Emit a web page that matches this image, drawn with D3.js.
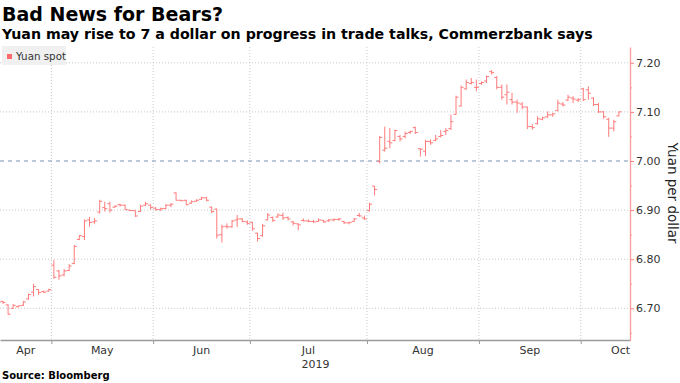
<!DOCTYPE html>
<html>
<head>
<meta charset="utf-8">
<script src="https://cdn.jsdelivr.net/npm/d3@7"></script>
<style>
  body { margin: 0; background: #fff; }
  svg { display: block; font-family: "DejaVu Sans", Verdana, sans-serif; }
</style>
</head>
<body>
<div id="viz"></div>
<script>
const width = 680;
const height = 383;
const plot = {left: 0, right: 630, top: 47, bottom: 340};

// trading days per month shown (onshore CNY, holidays excluded)
const months = ['Apr', 'May', 'Jun', 'Jul', 'Aug', 'Sep', 'Oct'];
const barsPerMonth = [11, 20, 19, 23, 22, 20, 8];
const yearLabel = '2019';

const openVals = [
  6.712, 6.714, 6.707, 6.700, 6.703, 6.706, 6.719, 6.733, 6.738, 6.734, 6.735,
  6.788, 6.776, 6.768, 6.777, 6.791, 6.840, 6.846, 6.880, 6.876, 6.896,
  6.905, 6.913, 6.906, 6.911, 6.910, 6.900, 6.899, 6.897, 6.910, 6.910,
  6.904, 6.901, 6.903, 6.910, 6.935, 6.920, 6.920, 6.914, 6.918, 6.922,
  6.925, 6.906, 6.902, 6.850, 6.867, 6.866, 6.880, 6.882, 6.876,
  6.875, 6.853, 6.848, 6.880, 6.885, 6.886, 6.889, 6.885, 6.876, 6.872,
  6.879, 6.878, 6.877, 6.877, 6.879, 6.878, 6.880, 6.881, 6.877, 6.874,
  6.877, 6.889, 6.884,
  6.899, 6.949, 6.999, 7.022, 7.040, 7.042, 7.050, 7.050, 7.058, 7.068,
  7.025, 7.020, 7.040, 7.042, 7.050, 7.060, 7.066, 7.095, 7.112, 7.147,
  7.158, 7.150,
  7.158, 7.163, 7.182, 7.170, 7.150, 7.135, 7.125, 7.120, 7.116, 7.110,
  7.070, 7.076, 7.085, 7.090, 7.094, 7.103, 7.116, 7.124, 7.128, 7.124,
  7.147, 7.145, 7.128, 7.115, 7.100, 7.085, 7.067, 7.092
];
const highVals = [
  6.716, 6.715, 6.708, 6.709, 6.706, 6.715, 6.730, 6.750, 6.739, 6.736, 6.740,
  6.798, 6.778, 6.780, 6.790, 6.829, 6.849, 6.881, 6.886, 6.884, 6.921,
  6.917, 6.917, 6.910, 6.913, 6.911, 6.900, 6.899, 6.911, 6.917, 6.912,
  6.906, 6.905, 6.912, 6.914, 6.936, 6.921, 6.921, 6.920, 6.922, 6.927,
  6.927, 6.907, 6.903, 6.870, 6.873, 6.880, 6.890, 6.884, 6.879,
  6.876, 6.854, 6.872, 6.894, 6.887, 6.893, 6.895, 6.887, 6.878, 6.873,
  6.883, 6.881, 6.880, 6.883, 6.880, 6.882, 6.883, 6.884, 6.878, 6.876,
  6.884, 6.894, 6.889,
  6.915, 6.949, 7.051, 7.070, 7.067, 7.064, 7.053, 7.060, 7.062, 7.070,
  7.026, 7.043, 7.044, 7.053, 7.063, 7.067, 7.094, 7.133, 7.154, 7.166,
  7.169, 7.166,
  7.162, 7.174, 7.185, 7.173, 7.156, 7.156, 7.139, 7.125, 7.120, 7.111,
  7.075, 7.091, 7.090, 7.101, 7.098, 7.125, 7.120, 7.135, 7.132, 7.128,
  7.149, 7.152, 7.130, 7.118, 7.102, 7.088, 7.084, 7.101
];
const lowVals = [
  6.709, 6.709, 6.687, 6.699, 6.702, 6.705, 6.718, 6.724, 6.727, 6.731, 6.734,
  6.760, 6.758, 6.765, 6.776, 6.790, 6.839, 6.839, 6.866, 6.872, 6.893,
  6.897, 6.895, 6.905, 6.907, 6.900, 6.898, 6.886, 6.896, 6.908, 6.901,
  6.899, 6.898, 6.902, 6.906, 6.920, 6.918, 6.910, 6.913, 6.917, 6.921,
  6.918, 6.894, 6.842, 6.834, 6.862, 6.864, 6.866, 6.875, 6.870,
  6.858, 6.836, 6.846, 6.879, 6.876, 6.885, 6.880, 6.879, 6.869, 6.859,
  6.877, 6.875, 6.874, 6.876, 6.874, 6.876, 6.877, 6.878, 6.872, 6.871,
  6.876, 6.886, 6.880,
  6.897, 6.930, 6.995, 7.019, 7.026, 7.040, 7.040, 7.046, 7.055, 7.055,
  7.009, 7.010, 7.033, 7.040, 7.048, 7.053, 7.063, 7.094, 7.111, 7.145,
  7.156, 7.142,
  7.155, 7.159, 7.176, 7.146, 7.125, 7.115, 7.115, 7.098, 7.105, 7.065,
  7.064, 7.074, 7.083, 7.088, 7.090, 7.101, 7.111, 7.122, 7.118, 7.120,
  7.122, 7.125, 7.112, 7.098, 7.086, 7.049, 7.060, 7.091
];
const closeVals = [
  6.712, 6.712, 6.688, 6.706, 6.705, 6.713, 6.728, 6.744, 6.732, 6.733, 6.738,
  6.763, 6.766, 6.776, 6.786, 6.826, 6.848, 6.878, 6.875, 6.878, 6.918,
  6.903, 6.900, 6.908, 6.910, 6.901, 6.899, 6.888, 6.908, 6.913, 6.905,
  6.901, 6.903, 6.910, 6.912, 6.920, 6.919, 6.911, 6.917, 6.920, 6.925,
  6.920, 6.897, 6.849, 6.866, 6.866, 6.878, 6.882, 6.877, 6.873,
  6.862, 6.842, 6.868, 6.890, 6.879, 6.890, 6.884, 6.882, 6.873, 6.870,
  6.878, 6.877, 6.876, 6.880, 6.876, 6.880, 6.881, 6.882, 6.874, 6.875,
  6.882, 6.888, 6.882,
  6.912, 6.942, 7.048, 7.026, 7.037, 7.062, 7.045, 7.056, 7.060, 7.058,
  7.024, 7.040, 7.037, 7.045, 7.052, 7.062, 7.080, 7.130, 7.150, 7.160,
  7.160, 7.150,
  7.160, 7.172, 7.180, 7.150, 7.130, 7.140, 7.120, 7.118, 7.110, 7.070,
  7.068, 7.086, 7.088, 7.094, 7.096, 7.118, 7.114, 7.130, 7.126, 7.125,
  7.125, 7.138, 7.115, 7.100, 7.090, 7.067, 7.080, 7.100
];

const yTicks = [6.70, 6.80, 6.90, 7.00, 7.10, 7.20];
const yMinorTicks = [6.65, 6.75, 6.85, 6.95, 7.05, 7.15];
const refLevel = 7.00;

const bars = openVals.map((o, i) => ({
  i: i, o: o, h: highVals[i], l: lowVals[i], c: closeVals[i]
}));

// first bar index of every month
const monthStart = [];
barsPerMonth.reduce((acc, n) => { monthStart.push(acc); return acc + n; }, 0);

const svg = d3.select('#viz')
  .append('svg')
    .attr('width', width)
    .attr('height', height);

const x = d3.scaleLinear()
  .domain([0.41, 124.18])
  .range([plot.left, plot.right]);

const y = d3.scaleLinear()
  .domain([6.6354, 7.2322])
  .range([plot.bottom, plot.top]);

// titles
svg.append('text')
  .attr('x', 2).attr('y', 21)
  .attr('font-size', 19).attr('font-weight', 'bold').attr('fill', '#000')
  .text('Bad News for Bears?');
svg.append('text')
  .attr('x', 2).attr('y', 39)
  .attr('font-size', 14.2).attr('font-weight', 'bold').attr('fill', '#000')
  .text('Yuan may rise to 7 a dollar on progress in trade talks, Commerzbank says');

// month boundaries
const boundaries = monthStart.slice(1).map(s => s - 0.5);

// vertical grid
svg.append('g')
  .selectAll('line')
  .data(boundaries)
  .join('line')
    .attr('x1', d => x(d)).attr('x2', d => x(d))
    .attr('y1', plot.top).attr('y2', plot.bottom)
    .attr('stroke', '#c8c8c8')
    .attr('stroke-dasharray', '1,2');

// horizontal grid
svg.append('g')
  .selectAll('line')
  .data(yTicks.filter(d => d !== refLevel))
  .join('line')
    .attr('x1', plot.left).attr('x2', plot.right)
    .attr('y1', d => y(d)).attr('y2', d => y(d))
    .attr('stroke', '#c8c8c8')
    .attr('stroke-dasharray', '1,2');

svg.append('line')
  .attr('x1', plot.left).attr('x2', plot.right)
  .attr('y1', y(refLevel)).attr('y2', y(refLevel))
  .attr('stroke', '#7892b4')
  .attr('stroke-dasharray', '4,4');

// legend
svg.append('rect')
  .attr('x', 2).attr('y', 46).attr('width', 64).attr('height', 19)
  .attr('fill', '#f0f0f0');
svg.append('rect')
  .attr('x', 7).attr('y', 54).attr('width', 5).attr('height', 5)
  .attr('fill', '#ff6a6a');
svg.append('text')
  .attr('x', 16).attr('y', 60)
  .attr('font-size', 10.3).attr('fill', '#333')
  .text('Yuan spot');

// OHLC bars
svg.append('clipPath').attr('id', 'plotclip')
  .append('rect')
    .attr('x', plot.left).attr('y', plot.top)
    .attr('width', plot.right - plot.left).attr('height', plot.bottom - plot.top);

const barG = svg.append('g')
  .attr('clip-path', 'url(#plotclip)')
  .attr('stroke', '#ff7a7a')
  .attr('stroke-width', 1)
  .attr('fill', 'none');

const ohlcPath = d => {
  const cx = x(d.i);
  return `M${cx},${y(d.h)}V${y(d.l)}` +
    `M${cx - 2.5},${y(d.o)}H${cx}` +
    `M${cx},${y(d.c)}H${cx + 2.5}`;
};

barG.selectAll('path')
  .data(bars)
  .join('path')
    .attr('d', ohlcPath);

// bottom axis
const xAxis = svg.append('g')
  .attr('transform', `translate(0, ${plot.bottom})`)
  .call(d3.axisBottom(x)
    .tickValues(boundaries)
    .tickFormat('')
    .tickSize(4)
    .tickSizeOuter(0));
xAxis.select('.domain').attr('stroke', '#9a9a9a').attr('stroke-width', 1.5);
xAxis.selectAll('.tick line').attr('stroke', '#9a9a9a');

const labelG = svg.append('g')
  .attr('font-size', 11)
  .attr('fill', '#333')
  .attr('text-anchor', 'middle');

months.forEach((m, k) => {
  const a = Math.max(plot.left, x(monthStart[k] - 0.5));
  const last = k === months.length - 1;
  // the running month is labelled flush with the right edge
  const b = last ? Infinity : x(monthStart[k] + barsPerMonth[k] - 0.5);
  const t = labelG.append('text').attr('y', 354).text(m);
  const hw = t.node().getComputedTextLength() / 2;
  const cx = Math.min(Math.max((a + b) / 2, plot.left + hw), plot.right - hw);
  t.attr('x', cx);
  if (m === 'Jul') {
    labelG.append('text').attr('x', cx + 7).attr('y', 368).text(yearLabel);
  }
});

// right axis
const yAxis = svg.append('g')
  .attr('transform', `translate(${plot.right}, 0)`)
  .call(d3.axisRight(y)
    .tickValues(yTicks)
    .tickFormat(d3.format('.2f'))
    .tickSize(4)
    .tickPadding(2)
    .tickSizeOuter(0));
yAxis.select('.domain').attr('stroke', '#ff9a9a').attr('stroke-width', 1.3);
yAxis.selectAll('.tick line').attr('stroke', '#ff8080');
yAxis.selectAll('.tick text')
  .attr('fill', '#333')
  .attr('font-size', 11)
  .attr('font-family', '"DejaVu Sans", Verdana, sans-serif');

svg.append('g')
  .attr('transform', `translate(${plot.right}, 0)`)
  .call(d3.axisRight(y)
    .tickValues(yMinorTicks)
    .tickFormat('')
    .tickSize(2)
    .tickSizeOuter(0))
  .call(g => g.select('.domain').remove())
  .selectAll('.tick line').attr('stroke', '#ff9a9a');

svg.append('text')
  .attr('transform', `translate(668, 193) rotate(90)`)
  .attr('text-anchor', 'middle')
  .attr('font-size', 13.5)
  .attr('fill', '#222')
  .text('Yuan per dollar');

// source
svg.append('text')
  .attr('x', 2).attr('y', 379)
  .attr('font-size', 10)
  .attr('font-weight', 'bold')
  .attr('fill', '#000')
  .text('Source: Bloomberg');
</script>
</body>
</html>
